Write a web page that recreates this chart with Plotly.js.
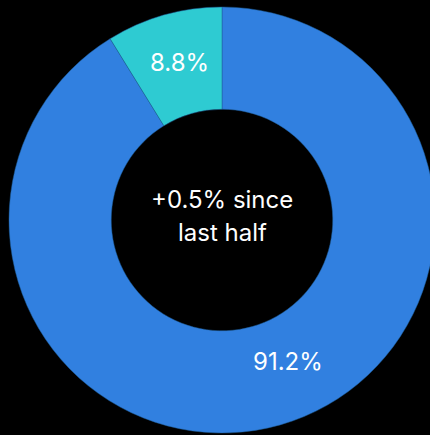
<!DOCTYPE html>
<html>
<head>
<meta charset="utf-8">
<script src="https://cdn.plot.ly/plotly-3.0.1.min.js"></script>
<style>html,body{margin:0;padding:0;background:#000;overflow:hidden;}</style>
</head>
<body>
<div id="chart"></div>
<script>
const labels = ["Segment A", "Segment B"];
const values = [91.2, 8.8];
const colors = ["#3180e0", "#2ecbd2"];
const centerLines = ["+0.5% since", "last half"];

// label anchor positions (paper coordinates) for each slice's percentage text
const labelX = [0.655, 0.4002];
const labelY = [0.1678, 0.8697];
const centerY = [0.5481, 0.4707];

const total = values.reduce((a, b) => a + b, 0);
const annotations = [];
values.forEach((v, i) => {
  annotations.push({
    text: (v / total * 100).toFixed(1) + "%",
    x: labelX[i], y: labelY[i], xref: "paper", yref: "paper",
    xanchor: "center", yanchor: "middle",
    showarrow: false,
    font: {family: "Inter, sans-serif", size: 24, color: "#ffffff"}
  });
});
centerLines.forEach((t, i) => {
  annotations.push({
    text: t,
    x: 0.5, y: centerY[i], xref: "paper", yref: "paper",
    xanchor: "center", yanchor: "middle",
    showarrow: false,
    font: {family: "Inter, sans-serif", size: 24, color: "#ffffff"}
  });
});

Plotly.newPlot("chart", [{
  type: "pie",
  labels: labels,
  values: values,
  sort: false,
  direction: "clockwise",
  rotation: 0,
  hole: 0.52,
  marker: {colors: colors, line: {color: "#1f5f9a", width: 0.5}},
  textinfo: "none",
  showlegend: false,
  hoverinfo: "none"
}], {
  width: 444,
  height: 435,
  margin: {l: 9, r: 9, t: 7, b: 2},
  paper_bgcolor: "#000000",
  plot_bgcolor: "#000000",
  font: {family: "Inter, sans-serif", color: "#ffffff"},
  annotations: annotations
}, {displayModeBar: false, staticPlot: true});
</script>
</body>
</html>
